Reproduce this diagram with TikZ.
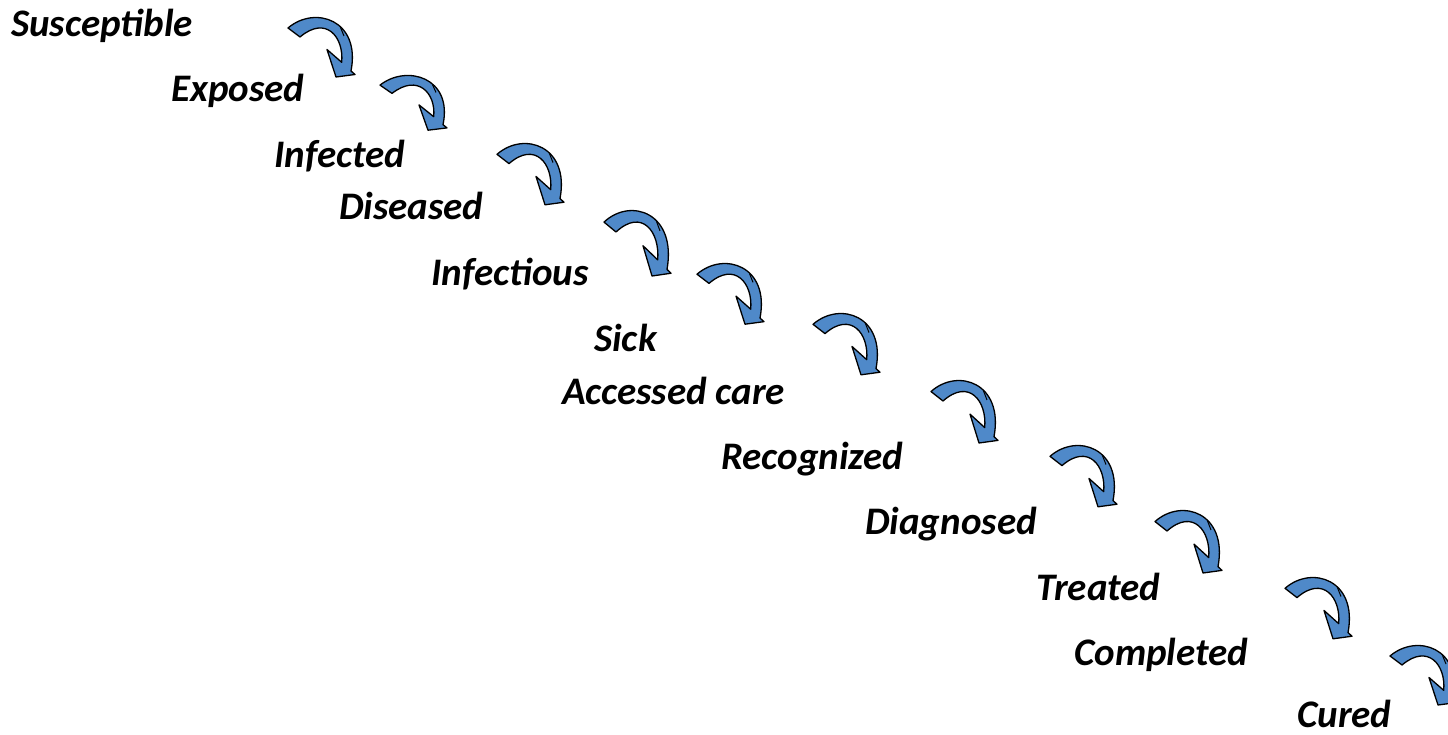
\documentclass[tikz,border=0pt]{standalone}
\usepackage{fontspec}
\setmainfont{Carlito}
\definecolor{arrowblue}{RGB}{79,137,201}

\tikzset{
  stage/.style={anchor=base west, inner sep=0pt, font=\fontsize{39}{42}\selectfont\bfseries\itshape},
  flowarrow/.pic={
    \filldraw[fill=arrowblue, draw=black, line width=1.3pt, line join=round]
      (0,11) .. controls (27,-12) and (73,3) .. (63,54)
      -- (67,57.5) -- (48,60) -- (39,32.5) -- (53.7,45.3)
      .. controls (56,20) and (38,-2) .. (12,20) -- cycle;
    \draw[line width=1pt] (52.4,10.2) -- (56,19);
  }
}

\begin{document}
\begin{tikzpicture}[x=1pt, y=-1pt]
    \clip (0,0) rectangle (1448,735);

    % stages of the cascade
    \node[stage] (susceptible) at (11,37)   {Susceptible};
    \node[stage] (exposed)     at (171,102) {Exposed};
    \node[stage] (infected)    at (274,168) {Infected};
    \node[stage] (diseased)    at (339,220) {Diseased};
    \node[stage] (infectious)  at (431,286) {Infectious};
    \node[stage] (sick)        at (594,351) {Sick};
    \node[stage] (accessed)    at (562,404) {Accessed care};
    \node[stage] (recognized)  at (721,469) {Recognized};
    \node[stage] (diagnosed)   at (865,534) {Diagnosed};
    \node[stage] (treated)     at (1036,600) {Treated};
    \node[stage] (completed)   at (1074,665) {Completed};
    \node[stage] (cured)       at (1297,727) {Cured};

    % curved arrows between the steps
    \foreach \ax/\ay/\ah in {288/17/1.0, 380/75/0.92, 497/143/1.03, 604/210/1.1,
                             697/263/1.02, 813/313/1.03, 931/380/1.05, 1050/445/1.03,
                             1155/510/1.05, 1285/577/1.03, 1390/645/1.0}
        \pic[yscale=\ah] at (\ax,\ay) {flowarrow};
\end{tikzpicture}
\end{document}
